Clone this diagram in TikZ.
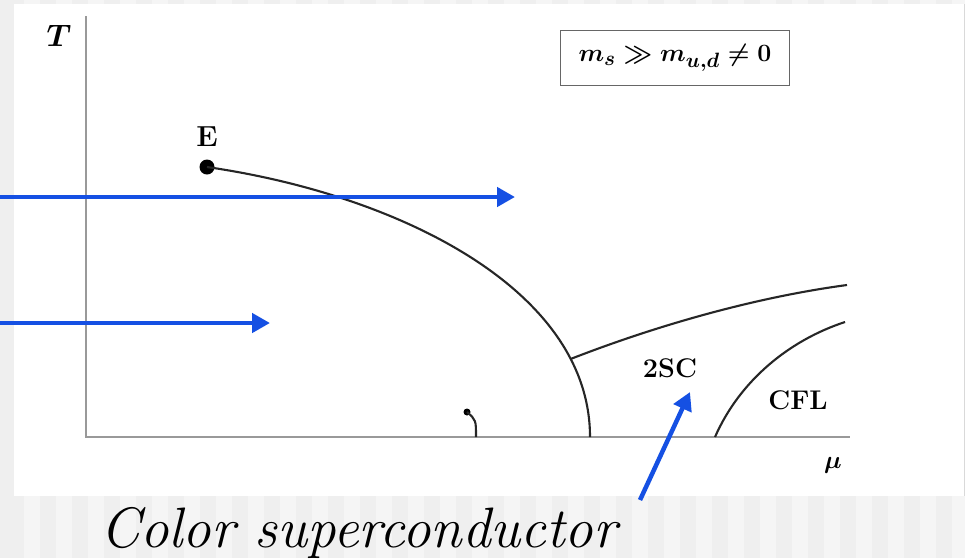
\documentclass[tikz,border=0pt]{standalone}
\usepackage{amsmath,amssymb}
\usepackage{tikz}
\usetikzlibrary{positioning,arrows.meta,calc}
\definecolor{pdblue}{HTML}{1550E3}
\definecolor{pdgrey}{HTML}{EFEFEF}
\definecolor{pdstripe}{HTML}{F5F5F5}

\begin{document}
\begin{tikzpicture}[x=1pt,y=-1pt]
  \tikzstyle{lbl}=[font=\fontsize{27}{30}\selectfont\bfseries,inner sep=0pt]
  \tikzstyle{bnd}=[line width=2.1pt,black!85]
  \tikzstyle{axis}=[line width=2pt,black!40]
  \tikzstyle{pointer}=[-{Triangle[length=18pt,width=19pt]},line width=4.5pt,pdblue]
  \useasboundingbox (0,0) rectangle (965,558);
  \fill[pdgrey] (0,0) rectangle (965,558);
  \foreach \i in {1,3,...,59} \fill[pdstripe] (\i*16+8,0) rectangle ++(16,558);
  \fill[white] (14,4) rectangle (964,496);
  \draw[black!15] (964,4) -- (964,496);
  \coordinate (ytop) at (86,16);
  \coordinate (orig) at (86,437);
  \coordinate (xend) at (850,437);
  \draw[axis] (ytop) -- (orig) -- (xend);
  \node[lbl] (tlab) at (59,36) {\scalebox{1.25}{$\boldsymbol{T}$}};
  \node[lbl] (mulab) at (833,465) {$\boldsymbol{\mu}$};
  \node[draw=black!60,line width=1pt,minimum width=229pt,minimum height=55pt,font=\fontsize{28}{30}\selectfont] (mass) at (675,58) {$\boldsymbol{m_s\gg m_{u,d}\neq 0}$};
  \node[circle,fill=black,inner sep=0pt,minimum size=15pt] (E) at (207,167) {};
  \node[lbl,font=\fontsize{29}{32}\selectfont\bfseries,above=13pt of E] (Elbl) {E};
  \coordinate (mu1) at (590,437);
  \coordinate (tsc) at (847,285);
  \coordinate (mu2) at (715,437);
  \coordinate (cfl) at (845,322);
  \draw[bnd] (E.center) .. controls (400,195) and (590,290) .. (mu1) coordinate[pos=0.81] (junc);
  \draw[bnd] (junc) .. controls (650,328) and (750,298) .. (tsc);
  \draw[bnd] (mu2) .. controls (740,380) and (790,340) .. (cfl);
  \node[circle,fill=black,inner sep=0pt,minimum size=7pt] (tri) at (467,412) {};
  \coordinate (mu0) at (476,437);
  \draw[bnd] (tri.center) .. controls (476,420) .. (mu0);
  \node[lbl] (twosc) at (670,368) {2SC};
  \node[lbl] (cflab) at (798,400) {CFL};
  \node[font=\fontsize{57}{62}\selectfont\itshape,anchor=base west,inner sep=0pt] (cap) at (100,547) {Color superconductor};
  \coordinate (a1) at (0,197);
  \coordinate (h1) at (515,197);
  \coordinate (a2) at (0,323);
  \coordinate (h2) at (270,323);
  \coordinate (a3) at (640,500);
  \coordinate (h3) at (690,392);
  \draw[pointer] (a1) -- (h1);
  \draw[pointer] (a2) -- (h2);
  \draw[pointer] (a3) -- (h3);
\end{tikzpicture}
\end{document}
